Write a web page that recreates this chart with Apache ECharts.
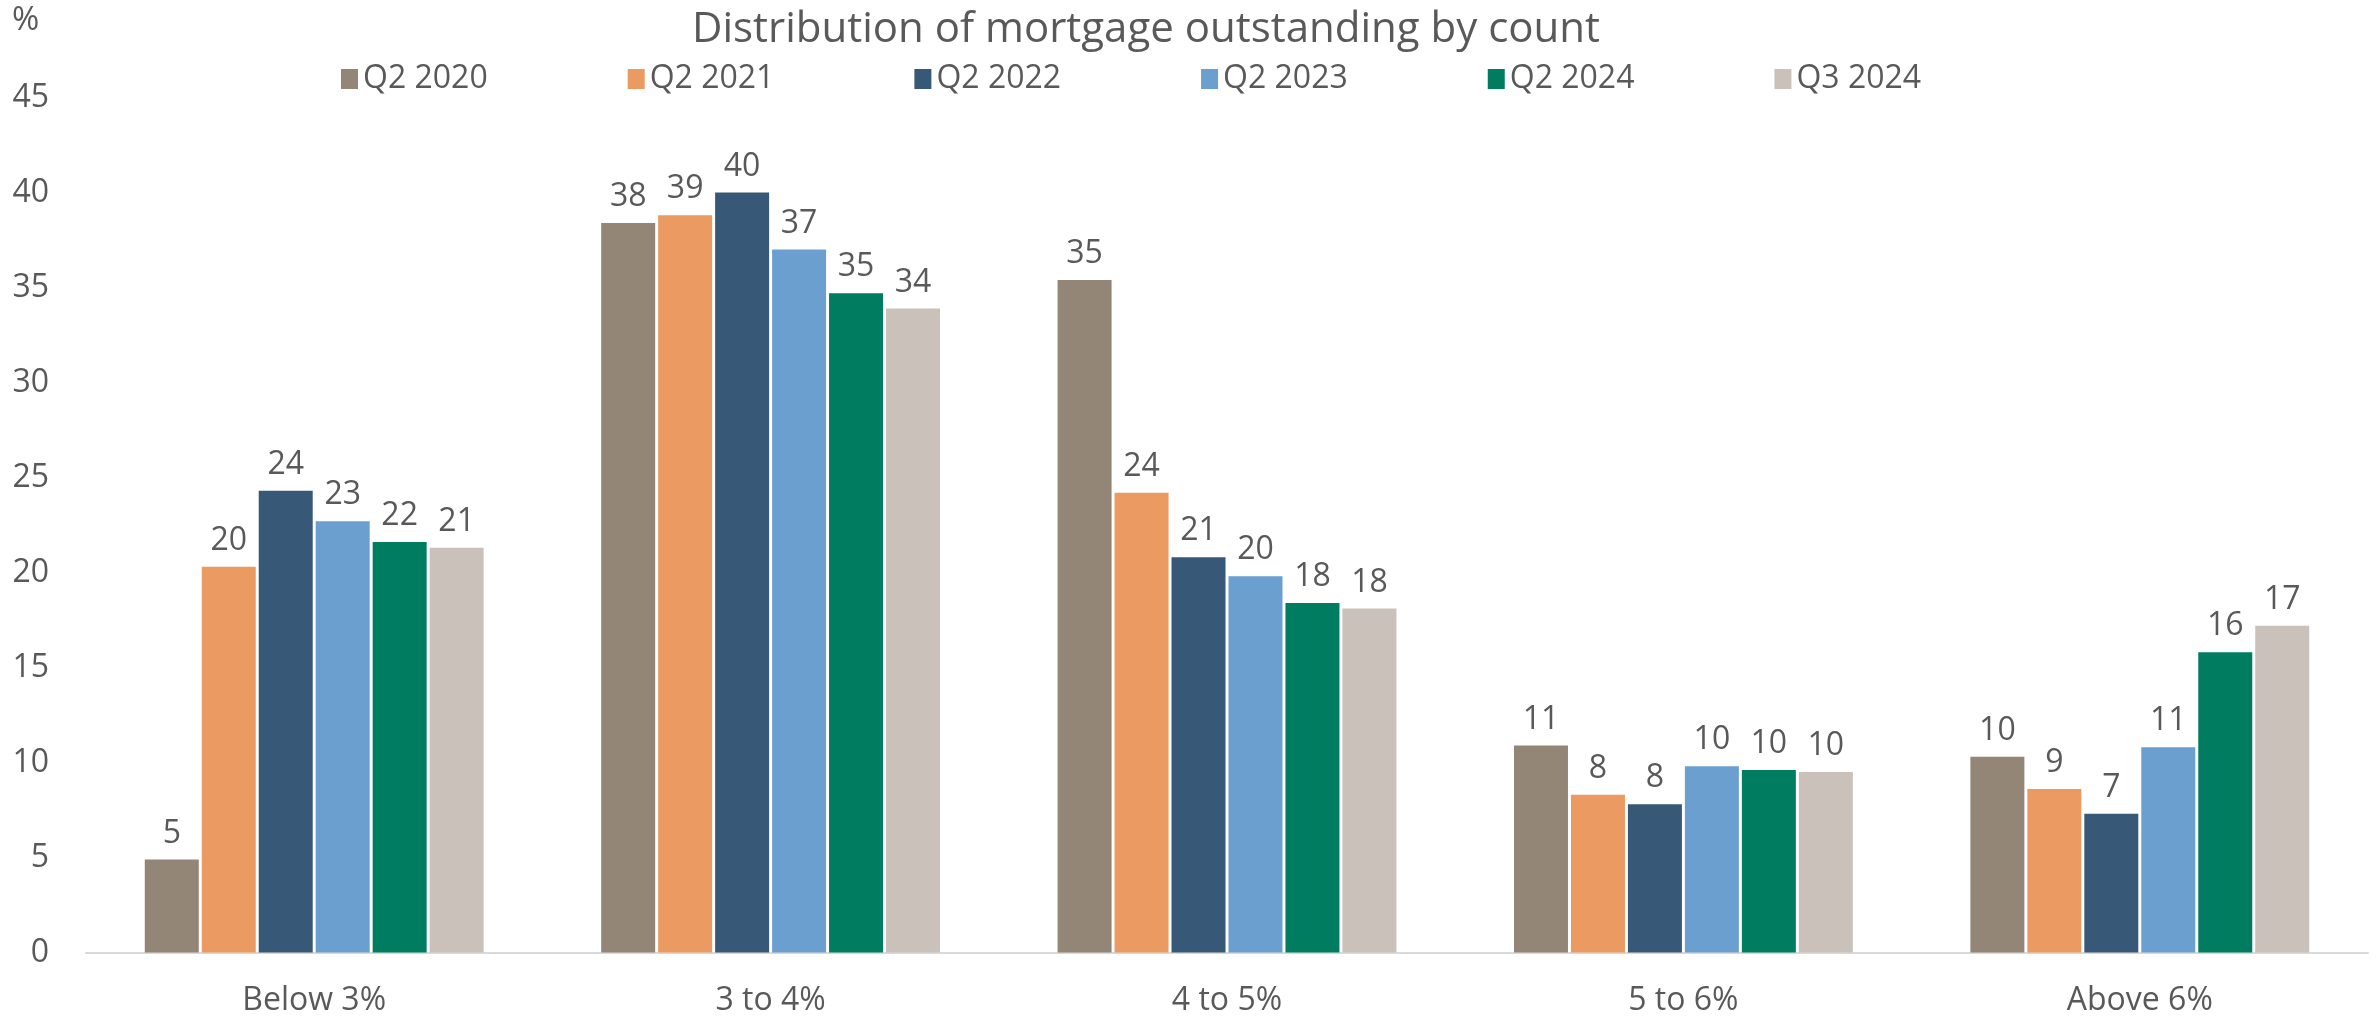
<!DOCTYPE html>
<html>
<head>
<meta charset="utf-8">
<script src="https://cdn.jsdelivr.net/npm/echarts@6/dist/echarts.min.js"></script>
<style>
html,body{margin:0;padding:0;background:#fff;}
#chart{width:2376px;height:1023px;}
</style>
</head>
<body>
<div id="chart"></div>
<script>
const categories = ['Below 3%', '3 to 4%', '4 to 5%', '5 to 6%', 'Above 6%'];
const seriesNames = ['Q2 2020', 'Q2 2021', 'Q2 2022', 'Q2 2023', 'Q2 2024', 'Q3 2024'];
const q2_2020 = [4.9, 38.4, 35.4, 10.9, 10.3];
const q2_2021 = [20.3, 38.8, 24.2, 8.3, 8.6];
const q2_2022 = [24.3, 40.0, 20.8, 7.8, 7.3];
const q2_2023 = [22.7, 37.0, 19.8, 9.8, 10.8];
const q2_2024 = [21.6, 34.7, 18.4, 9.6, 15.8];
const q3_2024 = [21.3, 33.9, 18.1, 9.5, 17.2];
const yTicks = [0, 5, 10, 15, 20, 25, 30, 35, 40, 45];
const colors = ['#948677', '#EB9A62', '#375877', '#6A9FD0', '#007C61', '#C9C1BA'];

const allData = [q2_2020, q2_2021, q2_2022, q2_2023, q2_2024, q3_2024];
const FONT = '"Open Sans", "Noto Sans", sans-serif';
const TXT = '#595959';

const chart = echarts.init(document.getElementById('chart'));
chart.setOption({
  animation: false,
  backgroundColor: '#fff',
  textStyle: { fontFamily: FONT, color: TXT },
  title: {
    text: 'Distribution of mortgage outstanding by count',
    left: 1141,
    textAlign: 'center',
    top: 4,
    textStyle: { fontFamily: FONT, fontSize: 42, fontWeight: 'normal', color: TXT }
  },
  graphic: [{
    type: 'text', left: 12, top: 4,
    style: { text: '%', fontFamily: FONT, fontSize: 33, fill: TXT }
  }],
  legend: {
    data: seriesNames,
    left: 336,
    top: 58,
    itemWidth: 17,
    itemHeight: 20,
    itemGap: 140,
    icon: 'rect',
    textStyle: { fontFamily: FONT, fontSize: 32, color: TXT }
  },
  grid: { left: 86, right: 8, top: 97.5, bottom: 70.5, containLabel: false },
  xAxis: {
    type: 'category',
    data: categories,
    axisLine: { lineStyle: { color: '#D9D9D9', width: 2 } },
    axisTick: { show: false },
    axisLabel: { fontFamily: FONT, fontSize: 32, color: TXT, margin: 32 }
  },
  yAxis: {
    type: 'value',
    min: yTicks[0],
    max: yTicks[yTicks.length - 1],
    interval: 5,
    axisLine: { show: false },
    axisTick: { show: false },
    splitLine: { show: false },
    axisLabel: { fontFamily: FONT, fontSize: 32, color: TXT, margin: 37 }
  },
  series: seriesNames.map((name, i) => ({
    name: name,
    type: 'bar',
    data: allData[i],
    barWidth: 54,
    barGap: '5.5%',
    itemStyle: { color: colors[i] },
    label: {
      show: true,
      position: 'top',
      distance: 10,
      fontFamily: FONT,
      fontSize: 32,
      color: TXT,
      formatter: p => Math.round(p.value)
    }
  }))
});
</script>
</body>
</html>
